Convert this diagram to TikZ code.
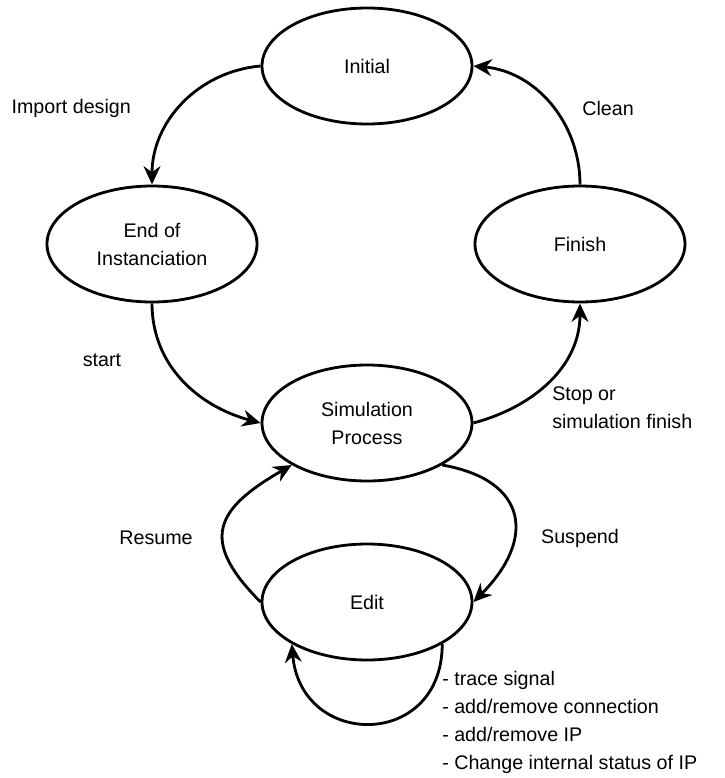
\documentclass[tikz,border=0pt]{standalone}
\usepackage{fontspec}
\setmainfont{Liberation Sans}
\usetikzlibrary{arrows.meta,shapes.geometric}

\begin{document}
\begin{tikzpicture}[
    every node/.style={font=\fontsize{14}{19.9}\selectfont},
    state/.style={ellipse, draw=black, line width=2pt, minimum width=5.25cm, minimum height=2.9cm, inner sep=0pt, align=center},
    arrow/.style={-{Stealth[length=4.6mm, width=4.2mm, inset=1.5mm]}, line width=2pt},
    annotation/.style={align=left, inner sep=0pt}
]
\useasboundingbox (0,0) rectangle (18.125,-19.45);

% States
\node[state] (initial) at (9.175,-1.65) {Initial};
\node[state] (endinst) at (3.8,-6.1) {End of\\Instanciation};
\node[state] (finish) at (14.5,-6.1) {Finish};
\node[state] (simproc) at (9.175,-10.575) {Simulation\\Process};
\node[state] (edit) at (9.175,-15.05) {Edit};

% Main cycle
\draw[arrow] (initial.west) to[out=185, in=90] (endinst.north);
\draw[arrow] (endinst.south) to[out=-90, in=165] (simproc.west);
\draw[arrow] (simproc.east) to[out=15, in=-90] (finish.south);
\draw[arrow] (finish.north) to[out=90, in=-5] (initial.east);

% Suspend / resume
\draw[arrow] (simproc.south east) to[out=-10, in=45, looseness=1.6] (edit.east);
\draw[arrow] (edit.west) to[out=135, in=210, looseness=1.6] (simproc.south west);

% Edit loop
\draw[arrow] (edit.south east) to[out=-90, in=-85, looseness=1.8] (edit.south west);

% Labels
\node[annotation] (lblimport) at (1.78,-2.7) {Import design};
\node[annotation] (lblclean) at (15.2,-2.7) {Clean};
\node[annotation] (lblstart) at (2.55,-9.0) {start};
\node[annotation, anchor=west] (lblstop) at (13.8,-10.2) {Stop or\\simulation finish};
\node[annotation] (lblresume) at (3.9,-13.45) {Resume};
\node[annotation] (lblsuspend) at (14.5,-13.45) {Suspend};
\node[annotation, anchor=west] (lbledit) at (11.05,-18.06) {- trace signal\\- add/remove connection\\- add/remove IP\\- Change internal status of IP};
\end{tikzpicture}
\end{document}
